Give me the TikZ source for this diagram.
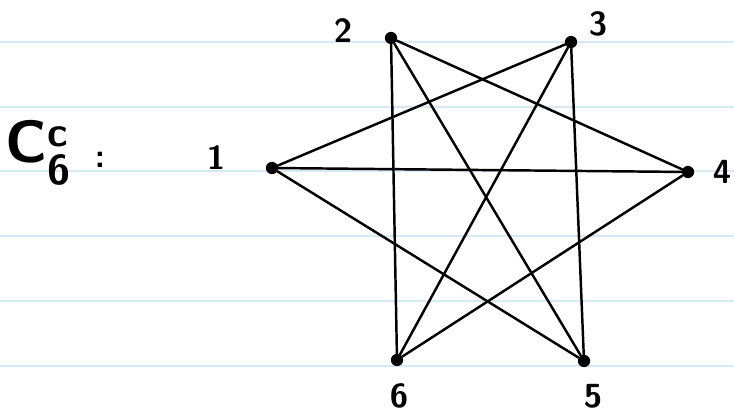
\documentclass[tikz,border=0pt]{standalone}
\usepackage{tikz}
\usepackage{amsmath}
\usetikzlibrary{calc}
\definecolor{ruled}{RGB}{214,234,246}
\tikzset{
  vertex/.style={circle,fill=black,inner sep=0pt,minimum size=7pt},
  edge/.style={line width=1.4pt,line cap=round},
  lbl/.style={inner sep=0pt,font=\sffamily\bfseries\fontsize{19}{19}\selectfont}
}
\begin{document}
\begin{tikzpicture}[x=0.02cm,y=-0.02cm]
\useasboundingbox (0,0) rectangle (734,415);
\foreach \h in {42,107,171,236,301,366}{\draw[ruled,line width=0.8pt] (0,\h) -- (734,\h);}
\node[vertex] (v1) at (272,168) {}; \node[vertex] (v2) at (391,38) {}; \node[vertex] (v3) at (571,42) {};
\node[vertex] (v4) at (688,172) {}; \node[vertex] (v5) at (584,361) {}; \node[vertex] (v6) at (397,360) {};
\foreach \a/\b in {1/3,1/4,1/5,2/4,2/5,2/6,3/5,3/6,4/6}{\draw[edge] (v\a) -- (v\b);}
\foreach \p/\x/\y in {1/216/158,2/343/31,3/598/24,4/722/172,5/593/396,6/399/396}{\node[lbl] at (\x,\y) {\p};}
\node[inner sep=0pt,font=\sffamily\bfseries\fontsize{34}{34}\selectfont] (title) at (38,153) {C$_{\text{6}}^{\text{c}}$};
\node[lbl] (colon) at (100,160) {:};
\end{tikzpicture}
\end{document}
